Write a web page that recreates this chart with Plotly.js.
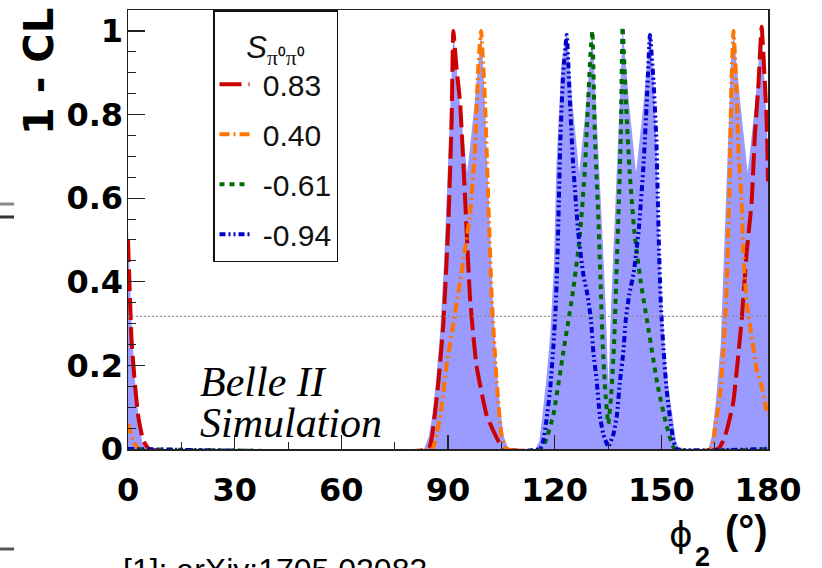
<!DOCTYPE html>
<html>
<head>
<meta charset="utf-8">
<script src="https://cdn.plot.ly/plotly-3.0.1.min.js"></script>
<style>html,body{margin:0;padding:0;background:#fff;}#chart{width:822px;height:568px;}</style>
</head>
<body>
<div id="chart"></div>
<script>
// ---- data ----
const seriesNames = ['0.83', '0.40', '-0.61', '-0.94'];
const seriesColors = ['#cc0000', '#ff7400', '#006b00', '#0000cc'];

// combined (filled) 1-CL curve
const fillX = [0, 1, 2, 3, 4, 5,
  83.3, 84.6, 85.6, 86.6, 87.8, 88.9, 90, 90.9, 91.5, 93.4, 95.4, 97.4, 99.3, 100.1, 100.9, 101.7, 102.6, 103.5, 104.6, 105.7, 107,
  114.6, 115.7, 116.5, 117.7, 118.8, 119.8, 120.5, 121.9, 123.4, 125.1, 126.9, 128.8, 130.6, 131.5, 132.5, 133.5, 134.3, 135.1,
  135.9, 136.7, 137.7, 138.5, 139.1, 141, 142.9, 144.9, 146.8, 147.9, 148.7, 149.4, 150.1, 150.9, 151.8, 153.2, 154.1, 154.9,
  163.2, 164.2, 165.3, 166.7, 167.7, 168.6, 169.6, 170.3, 172.3, 174.3, 176.3, 178.2, 179.2, 180];
const fillY = [0.53, 0.3, 0.16, 0.07, 0.015, 0,
  0, 0.03, 0.08, 0.16, 0.28, 0.45, 0.68, 0.88, 1.0, 0.82, 0.66, 0.82, 1.0, 0.88, 0.72, 0.52, 0.36, 0.22, 0.1, 0.03, 0,
  0, 0.02, 0.077, 0.17, 0.28, 0.44, 0.68, 0.92, 1.0, 0.82, 0.66, 0.82, 1.0, 0.85, 0.7, 0.5, 0.35, 0.15,
  0.35, 0.5, 0.7, 0.87, 1.01, 0.82, 0.66, 0.82, 1.0, 0.88, 0.72, 0.5, 0.36, 0.25, 0.16, 0.077, 0.02, 0,
  0, 0.03, 0.11, 0.25, 0.47, 0.71, 0.93, 1.0, 0.82, 0.66, 0.82, 1.01, 0.85, 0.72];

// S = 0.83
const redX = [0, 1, 2, 2.9, 4.3, 6,
  84.5, 85.5, 87.3, 88.7, 90.1, 91, 91.5, 92.4, 93.4, 94.8, 96.2, 98, 100.9, 104.1, 106,
  166, 167.9, 170.2, 172.6, 174, 175.4, 176.3, 177.3, 178.2, 179.6, 180];
const redY = [0.5, 0.26, 0.15, 0.077, 0.02, 0,
  0, 0.03, 0.16, 0.3, 0.54, 0.78, 1.0, 0.91, 0.83, 0.6, 0.36, 0.2, 0.08, 0.02, 0,
  0, 0.03, 0.11, 0.31, 0.47, 0.59, 0.75, 0.87, 1.01, 0.79, 0.64];

// S = 0.40
const orangeX = [0, 1.5, 3,
  85.5, 86.5, 88, 89.6, 91.5, 93.4, 95, 96.2, 97.6, 98.5, 99.3, 100.4, 101.3, 102.3, 103.7, 105.1, 106.5,
  164, 165.1, 166.5, 167.4, 168.2, 168.8, 169.3, 169.7, 170.3, 171.1, 171.7, 172.6, 173, 174, 175.4, 176.8, 178.2, 179.4, 180];
const orangeY = [0.06, 0.02, 0,
  0, 0.02, 0.09, 0.2, 0.3, 0.4, 0.49, 0.56, 0.72, 0.91, 1.0, 0.83, 0.6, 0.36, 0.16, 0.03, 0,
  0, 0.05, 0.13, 0.23, 0.35, 0.51, 0.67, 0.87, 1.0, 0.87, 0.71, 0.59, 0.47, 0.35, 0.27, 0.19, 0.15, 0.1, 0.08];

// S = -0.61
const greenX = [0, 116.3, 117.5, 119.6, 122.4, 125.2, 127.1, 128.5, 129.4, 130.1, 130.6,
  131.3, 132.3, 132.9, 133.5, 134.3, 135.1, 135.9, 136.7, 137.3, 137.9, 138.6, 139.1,
  140.1, 141.1, 142.4, 144.2, 146.5, 149, 151.5, 153.8, 180];
const greenY = [0, 0, 0.02, 0.08, 0.23, 0.38, 0.51, 0.67, 0.83, 0.95, 1.0,
  0.75, 0.55, 0.4, 0.25, 0.13, 0.06, 0.13, 0.25, 0.4, 0.55, 0.75, 1.01,
  0.82, 0.66, 0.52, 0.4, 0.28, 0.15, 0.055, 0, 0];

// S = -0.94
const blueX = [0, 115.8, 116.8, 117.7, 118.7, 119.6, 120.3, 120.8, 121.2, 121.6, 122.4, 123.4,
  124.3, 125.2, 126.6, 128, 129.2, 130.2, 130.9, 131.8, 132.7, 133.7, 135.1,
  136.5, 137.5, 138.4, 139.3, 140, 141, 142.2, 143.6, 145, 145.9, 146.8,
  147.8, 148.6, 149, 149.4, 149.9, 150.6, 151.5, 152.5, 153.4, 154.4, 180];
const blueY = [0, 0, 0.02, 0.07, 0.14, 0.24, 0.34, 0.46, 0.6, 0.74, 0.9, 0.99,
  0.83, 0.68, 0.52, 0.42, 0.37, 0.31, 0.23, 0.165, 0.08, 0.035, 0.005,
  0.035, 0.08, 0.165, 0.23, 0.31, 0.37, 0.42, 0.52, 0.68, 0.83, 0.99,
  0.88, 0.74, 0.6, 0.46, 0.34, 0.24, 0.14, 0.07, 0.02, 0, 0];

const xTickVals = [0, 30, 60, 90, 120, 150, 180];
const xTickText = ['0', '30', '60', '90', '120', '150', '180'];
const yTickVals = [0, 0.2, 0.4, 0.6, 0.8, 1];
const yTickText = ['0', '0.2', '0.4', '0.6', '0.8', '1'];
const oneSigmaLevel = 0.3173;

// ---- traces ----
const lineDash = ['22px,7px', '10px,4px,2px,4px', '5px,5px', '6px,3px,2px,3px,2px,3px'];
const lineX = [redX, orangeX, greenX, blueX];
const lineY = [redY, orangeY, greenY, blueY];

const traces = [{
  type: 'scatter', mode: 'lines', x: fillX, y: fillY,
  fill: 'tozeroy', fillcolor: '#9a9aff', line: {width: 0, color: '#9a9aff'},
  showlegend: false, hoverinfo: 'skip', cliponaxis: true
}];
seriesNames.forEach((name, i) => {
  traces.push({
    type: 'scatter', mode: 'lines', name: '\u00a0' + name, legendgroup: 'g' + i,
    x: lineX[i], y: lineY[i],
    line: {color: seriesColors[i], width: 4, dash: lineDash[i], shape: 'spline', smoothing: 0.4},
    cliponaxis: false, hoverinfo: 'skip'
  });
});

const tickFont = {family: 'DejaVu Sans', size: 32, weight: 'bold', color: '#000'};

const layout = {
  width: 822, height: 568,
  margin: {l: 128, r: 54, t: 10, b: 119, pad: 0},
  paper_bgcolor: '#ffffff', plot_bgcolor: '#ffffff',
  xaxis: {
    range: [0, 180], tickmode: 'array', tickvals: xTickVals, ticktext: xTickText,
    showgrid: false, zeroline: false, showline: true, mirror: true,
    linecolor: '#222', linewidth: 1.5,
    ticks: 'inside', ticklen: 14, tickwidth: 1.2, tickcolor: '#222',
    minor: {ticks: 'inside', ticklen: 7, tickwidth: 1, dtick: 15, tick0: 0, tickcolor: '#222', showgrid: false},
    tickfont: tickFont, ticklabelstandoff: 12, fixedrange: true
  },
  yaxis: {
    range: [0, 1.05], tickmode: 'array', tickvals: yTickVals, ticktext: yTickText,
    showgrid: false, zeroline: false, showline: true, mirror: true,
    linecolor: '#222', linewidth: 1.5,
    ticks: 'inside', ticklen: 17, tickwidth: 1.2, tickcolor: '#222',
    minor: {ticks: 'inside', ticklen: 8, tickwidth: 1, dtick: 0.05, tick0: 0, tickcolor: '#222', showgrid: false},
    tickfont: tickFont, ticklabelstandoff: -3, fixedrange: true
  },
  showlegend: true,
  legend: {
    x: (213 - 128) / 640, y: 1, xanchor: 'left', yanchor: 'top',
    bgcolor: '#ffffff', bordercolor: '#111', borderwidth: 1.5,
    font: {family: 'Liberation Sans, Arial, sans-serif', size: 30, color: '#111'},
    title: {
      text: '<span style="font-size:31px"><i>S</i><sub><span style="font-family:Liberation Serif">π⁰π⁰</span></sub></span>',
      side: 'top center',
      font: {family: 'Liberation Sans, Arial, sans-serif', size: 36, color: '#111'}
    },
    traceorder: 'grouped', tracegroupgap: 8, itemwidth: 30
  },
  shapes: [
    {type: 'line', xref: 'paper', yref: 'y', x0: 0, x1: 1, y0: oneSigmaLevel, y1: oneSigmaLevel,
     line: {color: '#8a8a8a', width: 1, dash: '2px,2px'}, layer: 'above'},
    {type: 'line', xref: 'paper', yref: 'paper', x0: -0.2, x1: -0.178, y0: 0.558, y1: 0.558,
     line: {color: '#888', width: 3}},
    {type: 'line', xref: 'paper', yref: 'paper', x0: -0.2, x1: -0.178, y0: 0.5285, y1: 0.5285,
     line: {color: '#333', width: 3}},
    {type: 'line', xref: 'paper', yref: 'paper', x0: -0.2, x1: -0.178, y0: -0.2278, y1: -0.2278,
     line: {color: '#555', width: 3}}
  ],
  annotations: [
    {text: '1 - CL', xref: 'paper', yref: 'paper', x: (39 - 128) / 640, y: (449 - 72) / 439,
     xanchor: 'center', yanchor: 'middle', textangle: -90, showarrow: false,
     font: {family: 'DejaVu Sans', size: 40, weight: 'bold', color: '#000'}},
    {text: 'Belle II', xref: 'paper', yref: 'paper', x: (198 - 128) / 640, y: (449 - 382) / 439,
     xanchor: 'left', yanchor: 'middle', showarrow: false,
     font: {family: 'Liberation Serif, Times New Roman, serif', size: 42, style: 'italic', color: '#000'}},
    {text: 'Simulation', xref: 'paper', yref: 'paper', x: (198 - 128) / 640, y: (449 - 423) / 439,
     xanchor: 'left', yanchor: 'middle', showarrow: false,
     font: {family: 'Liberation Serif, Times New Roman, serif', size: 42, style: 'italic', color: '#000'}},
    {text: 'ϕ', xref: 'paper', yref: 'paper', x: (681 - 128) / 640, y: (449 - 534) / 439,
     xanchor: 'center', yanchor: 'middle', showarrow: false,
     font: {family: 'DejaVu Sans', size: 36, color: '#000'}},
    {text: '2', xref: 'paper', yref: 'paper', x: (702 - 128) / 640, y: (449 - 557) / 439,
     xanchor: 'center', yanchor: 'middle', showarrow: false,
     font: {family: 'Liberation Sans, Arial, sans-serif', size: 27, weight: 'bold', color: '#000'}},
    {text: '(°)', xref: 'paper', yref: 'paper', x: (746 - 128) / 640, y: (449 - 530) / 439,
     xanchor: 'center', yanchor: 'middle', showarrow: false,
     font: {family: 'Liberation Sans, Arial, sans-serif', size: 40, weight: 'bold', color: '#000'}},
    {text: '[1]: arXiv:1705.02083', xref: 'paper', yref: 'paper', x: (121 - 128) / 640, y: (449 - 570) / 439,
     xanchor: 'left', yanchor: 'middle', showarrow: false,
     font: {family: 'Liberation Sans, Arial, sans-serif', size: 32, color: '#000'}}
  ]
};

Plotly.newPlot('chart', traces, layout, {staticPlot: true, displayModeBar: false});
</script>
</body>
</html>
